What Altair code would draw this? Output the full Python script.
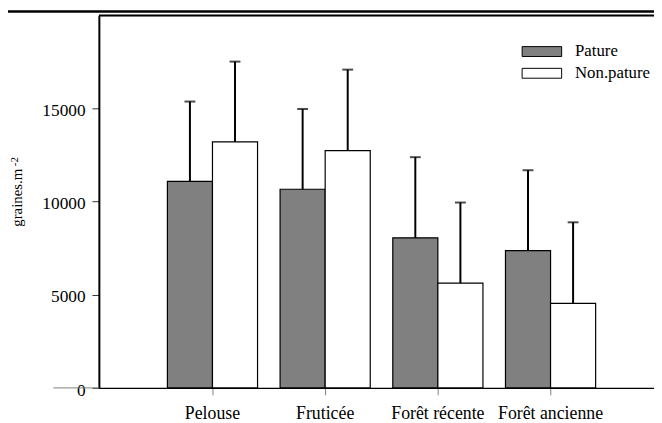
import altair as alt
import pandas as pd

categories = ["Pelouse", "Fruticée", "Forêt récente", "Forêt ancienne"]
series = ["Pature", "Non.pature"]
pature = [11060, 10640, 8040, 7350]
pature_upper = [15340, 14940, 12360, 11660]
nonpature = [13180, 12710, 5610, 4530]
nonpature_upper = [17480, 17050, 9930, 8870]
y_ticks = [0, 5000, 10000, 15000]

rows = []
for i, c in enumerate(categories):
    rows.append({"cat": c, "series": "Pature", "value": pature[i], "upper": pature_upper[i]})
    rows.append({"cat": c, "series": "Non.pature", "value": nonpature[i], "upper": nonpature_upper[i]})
df = pd.DataFrame(rows)

FONT = "'Liberation Serif', 'Times New Roman', serif"
W, H = 562, 377
YMAX = 19950

xenc = alt.X("cat:N", sort=categories,
             scale=alt.Scale(paddingInner=0.2, paddingOuter=0.563, align=0.54),
             axis=alt.Axis(title=None, labelAngle=0, labelFont=FONT, labelFontSize=18,
                           labelColor="black", domainColor="black", domainWidth=1.5,
                           tickColor="#808080", tickWidth=1, tickSize=7, labelPadding=10))
xoff = alt.XOffset("series:N", sort=series, scale=alt.Scale(paddingInner=0, paddingOuter=0))
yenc = alt.Y("value:Q", scale=alt.Scale(domain=[0, YMAX], nice=False, zero=True),
             axis=alt.Axis(values=y_ticks, format="d", grid=False, title="graines.m",
                           titleFont=FONT, titleFontSize=15, titleFontWeight="normal",
                           titleColor="black", titleX=-78, titleY=184, titleAngle=270,
                           titleBaseline="alphabetic", titleAlign="center",
                           labelFont=FONT, labelFontSize=17.5, labelColor="black",
                           labelPadding=7, labelOffset=2.5, domainColor="black", domainWidth=2,
                           tickColor="#333333", tickWidth=1, tickSize=7))

base = alt.Chart(df)

bars = base.mark_bar(stroke="black", strokeWidth=1.2).encode(
    x=xenc, xOffset=xoff, y=yenc,
    fill=alt.Fill("series:N", sort=series,
                  scale=alt.Scale(domain=series, range=["#808080", "#ffffff"]),
                  legend=alt.Legend(title=None, orient="none", legendX=438, legendY=26,
                                    padding=0, symbolType="M-2,-0.5H2V0.5H-2Z",
                                    symbolSize=400, symbolStrokeColor="black",
                                    symbolStrokeWidth=1, labelFont=FONT,
                                    labelFontSize=17, labelColor="black",
                                    labelOffset=23, rowPadding=3)),
)

err = base.mark_rule(color="black", strokeWidth=2).encode(
    x=xenc, xOffset=xoff, y="value:Q", y2="upper:Q")

caps = base.mark_tick(color="black", thickness=2, size=11, orient="horizontal").encode(
    x=xenc, xOffset=xoff, y="upper:Q")

one = pd.DataFrame({"k": [0]})
top_frame = alt.Chart(one).mark_rule(color="black", strokeWidth=2).encode(
    x=alt.value(0), x2=alt.value(W), y=alt.value(0))
page_line = alt.Chart(one).mark_rule(color="black", strokeWidth=2.5).encode(
    x=alt.value(-100), x2=alt.value(W + 10), y=alt.value(-4))
zero_ext = alt.Chart(one).mark_rule(color="#808080", strokeWidth=1).encode(
    x=alt.value(-46), x2=alt.value(0), y=alt.value(H))
sup = alt.Chart(one).mark_text(text="-2", font=FONT, fontSize=11, angle=270,
                               baseline="alphabetic", align="center", color="black").encode(
    x=alt.value(-82), y=alt.value(148))

chart = alt.layer(bars, err, caps, top_frame, page_line, zero_ext, sup).properties(
    width=W, height=H,
    autosize=alt.AutoSizeParams(type="none"),
    padding={"left": 92, "top": 5, "right": 0, "bottom": 36},
).configure_view(stroke=None).configure(background="white")

chart.save("out.html", embed_options={"renderer": "svg", "actions": False})
